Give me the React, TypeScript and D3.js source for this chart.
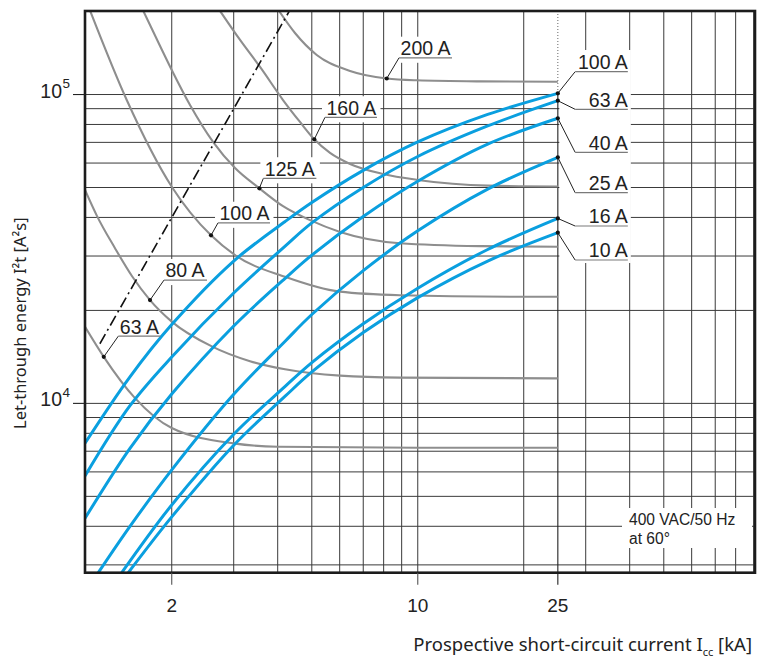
import React from "react";
import * as d3 from "d3";

// ---------------- data ----------------
const X_TICK_VALUES = [2, 10, 25];
const X_TICK_LABELS = ["2", "10", "25"];
const Y_TICK_VALUES = [10000, 100000];
const Y_TICK_BASE = "10";
const Y_TICK_EXPONENTS = ["4", "5"];
const X_GRID = [2, 3, 4, 5, 6, 7, 8, 9, 10, 20, 30, 40, 50, 60, 70, 80, 90];
const Y_GRID = [3000, 4000, 5000, 6000, 7000, 8000, 9000, 10000, 20000, 30000, 40000, 50000, 60000, 70000, 80000, 90000, 100000];
const X_DOMAIN = [1.134, 90.8];
const Y_DOMAIN = [2830, 186400];
const ICC_MAX = 25;

// MCB let-through energy curves: [Icc kA, I2t A2s]
const MCB_LABELS = ["100 A", "63 A", "40 A", "25 A", "16 A", "10 A"];
const MCB_100A = [[1.134, 7430], [1.52, 12170], [2, 18000], [3, 28900], [4.2, 38800], [5, 44700], [7, 56800], [10, 70200], [15.8, 86200], [25, 100900]];
const MCB_63A = [[1.134, 5820], [1.52, 9810], [2, 14130], [3, 22770], [4.2, 32300], [5, 38400], [7, 50000], [10, 63000], [15.8, 79100], [25, 95500]];
const MCB_40A = [[1.134, 4245], [1.52, 7140], [2, 10720], [3, 17800], [4.2, 25400], [5, 30200], [7, 40300], [10, 52400], [15.8, 69100], [25, 83800]];
const MCB_25A = [[1.237, 2830], [1.52, 3990], [2, 6090], [3, 10700], [4.2, 15900], [5, 19400], [7, 26900], [10, 36200], [15.8, 49400], [25, 62600]];
const MCB_16A = [[1.442, 2830], [2, 4690], [3, 7940], [4.2, 11350], [5, 13550], [7, 18100], [10, 23600], [15.8, 31500], [25, 39700]];
const MCB_10A = [[1.505, 2830], [2, 4290], [3, 7320], [4.2, 10550], [5, 12640], [7, 16950], [10, 22000], [15.8, 28900], [25, 35700]];
const MCB_SERIES = [MCB_100A, MCB_63A, MCB_40A, MCB_25A, MCB_16A, MCB_10A];

// Fuse curves (grey): [Icc kA, I2t A2s]
const FUSE_LABELS = ["63 A", "80 A", "100 A", "125 A", "160 A", "200 A"];
const FUSE_63A = [[1.134, 17700], [1.282, 14150], [1.573, 10400], [2, 8320], [3, 7420], [4, 7240], [10, 7185], [25, 7185]];
const FUSE_80A = [[1.134, 49100], [1.227, 40400], [1.38, 31800], [1.543, 25800], [1.735, 21600], [2, 18400], [2.598, 15300], [3.338, 13700], [4.197, 12900], [6.015, 12300], [8.9, 12120], [25, 12050]];
const FUSE_100A = [[1.172, 187000], [1.49, 96000], [2, 50300], [2.586, 35000], [3.026, 30200], [4.197, 25700], [6.015, 23000], [8.9, 22400], [18.3, 22150], [25, 22140]];
const FUSE_125A = [[1.661, 186400], [1.853, 143600], [2, 120100], [2.254, 92500], [2.62, 70300], [3.026, 57800], [3.548, 49700], [4.142, 43500], [4.942, 39200], [6.015, 35900], [8.9, 33000], [15, 32300], [25, 32150]];
const FUSE_160A = [[2.744, 186400], [3.127, 150200], [3.564, 122800], [4.142, 96000], [4.628, 81500], [5.082, 71600], [5.633, 64700], [6.422, 59600], [7.967, 55300], [10, 52900], [15.84, 50700], [25, 50400]];
const FUSE_200A = [[4.035, 186400], [4.479, 158200], [5.164, 134300], [6.422, 119200], [8.163, 112700], [9.93, 111200], [15, 110300], [25, 110000]];
const FUSE_SERIES = [FUSE_63A, FUSE_80A, FUSE_100A, FUSE_125A, FUSE_160A, FUSE_200A];
const FUSE_ANCHOR_ICC = [1.282, 1.735, 2.586, 3.548, 5.082, 8.163];

// 10 ms reference line (dash-dot)
const REF_LINE = [[1.25, 15600], [4.32, 186600]];

const X_TITLE = "Prospective short-circuit current I";
const X_TITLE_SUB = "cc";
const X_TITLE_UNIT = " [kA]";
const Y_TITLE = "Let-through energy I²t [A²s]";
const NOTE_LINES = ["400 VAC/50 Hz", "at 60°"];

// ---------------- component ----------------
export default function App() {
  const W = 757, H = 660;
  const L = 85, R = 755, T = 11, B = 572.7;
  const x = d3.scaleLog().domain(X_DOMAIN).range([L, R]);
  const y = d3.scaleLog().domain(Y_DOMAIN).range([B, T]);
  const fuseLine = d3
    .line<number[]>()
    .x((d) => x(d[0]))
    .y((d) => y(d[1]))
    .curve(d3.curveMonotoneX);
  const mcbLine = d3
    .line<number[]>()
    .x((d) => x(d[0]))
    .y((d) => y(d[1]))
    .curve(d3.curveCatmullRom.alpha(0.5));

  const valueAt = (s: number[][], v: number) => {
    for (let i = 0; i < s.length - 1; i++) {
      const [x0, y0] = s[i];
      const [x1, y1] = s[i + 1];
      if (v >= x0 && v <= x1) {
        const t = (Math.log(v) - Math.log(x0)) / (Math.log(x1) - Math.log(x0));
        return Math.exp(Math.log(y0) + t * (Math.log(y1) - Math.log(y0)));
      }
    }
    return s[s.length - 1][1];
  };

  const LABEL_FONT = "'Liberation Sans', Arial, Helvetica, sans-serif";
  const TITLE_FONT = "'Noto Sans', 'Open Sans', sans-serif";
  const GRID = "#3a3a3a";
  const FUSE_COL = "#8e8e8e";
  const BLUE = "#0a9fdf";
  const INK = "#222";

  const x25 = x(ICC_MAX);
  const y100End = y(MCB_100A[MCB_100A.length - 1][1]);

  // layout of annotation labels
  const FUSE_LEADER_DX = [14.6, 14, 7, 4, 10.7, 12.3];
  const FUSE_LEADER_DY = [-20.7, -20, -12.5, -10, -22, -20.7];
  const FUSE_UL_LEN = [42, 43, 52, 53, 52, 53];
  const MCB_UL_Y = [71.7, 109.3, 152.3, 192.7, 226, 260];
  const LABEL_SIZE = 19.5;

  const fuseLabels = FUSE_LABELS.map((lab, i) => {
    const cx = x(FUSE_ANCHOR_ICC[i]);
    const cy = y(valueAt(FUSE_SERIES[i], FUSE_ANCHOR_ICC[i]));
    const ex = cx + FUSE_LEADER_DX[i];
    const ey = cy + FUSE_LEADER_DY[i];
    return { lab, cx, cy, ex, ey, len: FUSE_UL_LEN[i] };
  });

  const mcbLabels = MCB_LABELS.map((lab, i) => {
    const s = MCB_SERIES[i];
    const cx = x(s[s.length - 1][0]);
    const cy = y(s[s.length - 1][1]);
    return { lab, cx, cy, ex: x25 + 17.3, ey: MCB_UL_Y[i], endX: x25 + 70 };
  });

  return (
    <svg
      width={W}
      height={H}
      viewBox={`0 0 ${W} ${H}`}
      style={{ position: "absolute", left: 0, top: 0, background: "#fff" }}
    >
      <defs>
        <clipPath id="plot">
          <rect x={L} y={T} width={R - L} height={B - T} />
        </clipPath>
      </defs>
      <rect x={0} y={0} width={W} height={H} fill="#fff" />

      {/* grid */}
      <g stroke={GRID} strokeWidth={1}>
        {X_GRID.map((v) => (
          <line key={"gx" + v} x1={x(v)} x2={x(v)} y1={T} y2={B} />
        ))}
        {Y_GRID.map((v) => (
          <line key={"gy" + v} x1={L} x2={R} y1={y(v)} y2={y(v)} />
        ))}
      </g>

      {/* white knock-out boxes behind labels */}
      <g fill="#fff">
        {fuseLabels.map((f, i) => (
          <rect key={"kb" + i} x={f.ex - 3} y={f.ey - 2.6 - 14 - 4.5} width={f.len + 6.5} height={14 + 4.5 + 2.6 + 5} />
        ))}
        <rect x={x25 + 1.5} y={50} width={71.5} height={213} />
        <rect x={622} y={508} width={130} height={40} />
      </g>

      {/* 25 kA line */}
      <line x1={x25} x2={x25} y1={T} y2={y100End} stroke="#555" strokeWidth={0.9} strokeDasharray="1,2" />
      <line x1={x25} x2={x25} y1={y100End} y2={B + 12} stroke={INK} strokeWidth={1.1} />

      {/* fuse curves */}
      <g clipPath="url(#plot)" fill="none" stroke={FUSE_COL} strokeWidth={2.1}>
        {FUSE_SERIES.map((s, i) => (
          <path key={"f" + i} d={fuseLine(s) || ""} />
        ))}
      </g>

      {/* 10 ms reference line */}
      <g clipPath="url(#plot)">
        <path d={fuseLine(REF_LINE) || ""} fill="none" stroke="#111" strokeWidth={1.6} strokeDasharray="11,4,2,4" />
      </g>

      {/* MCB curves */}
      <g clipPath="url(#plot)" fill="none" stroke={BLUE} strokeWidth={3} strokeLinejoin="round">
        {MCB_SERIES.map((s, i) => (
          <path key={"m" + i} d={mcbLine(s) || ""} />
        ))}
      </g>

      {/* fuse labels */}
      {fuseLabels.map((f, i) => (
        <g key={"fl" + i}>
          <line x1={f.cx} y1={f.cy} x2={f.ex} y2={f.ey} stroke={INK} strokeWidth={1} />
          <line x1={f.ex} y1={f.ey} x2={f.ex + f.len} y2={f.ey} stroke="#7a7a7a" strokeWidth={1.2} />
          <circle cx={f.cx} cy={f.cy} r={2.1} fill="#111" />
          <text x={f.ex + 1.5} y={f.ey - 2.6} fontFamily={LABEL_FONT} fontSize={LABEL_SIZE} fill={INK}>
            {f.lab}
          </text>
        </g>
      ))}

      {/* MCB labels */}
      {mcbLabels.map((m, i) => (
        <g key={"ml" + i}>
          <line x1={m.cx} y1={m.cy} x2={m.ex} y2={m.ey} stroke={INK} strokeWidth={1} />
          <line x1={m.ex} y1={m.ey} x2={m.endX} y2={m.ey} stroke="#7a7a7a" strokeWidth={1.2} />
          <circle cx={m.cx} cy={m.cy} r={2.1} fill="#111" />
          <text x={m.endX} y={m.ey - 2.6} textAnchor="end" fontFamily={LABEL_FONT} fontSize={LABEL_SIZE} fill={INK}>
            {m.lab}
          </text>
        </g>
      ))}

      {/* note */}
      <text fontFamily={LABEL_FONT} fontSize={15.6} fill={INK}>
        <tspan x={629} y={525}>{NOTE_LINES[0]}</tspan>
        <tspan x={629} y={543.5}>{NOTE_LINES[1]}</tspan>
      </text>

      {/* frame */}
      <rect x={L} y={T} width={R - L} height={B - T} fill="none" stroke="#1c1c1c" strokeWidth={2.6} />

      {/* ticks */}
      {Y_TICK_VALUES.map((v) => (
        <line key={"yt" + v} x1={L - 12} x2={L} y1={y(v)} y2={y(v)} stroke={INK} strokeWidth={1.1} />
      ))}
      {X_TICK_VALUES.filter((v) => v !== ICC_MAX).map((v) => (
        <line key={"xt" + v} x1={x(v)} x2={x(v)} y1={B} y2={B + 12} stroke="#555" strokeWidth={1.1} />
      ))}

      {/* tick labels */}
      {Y_TICK_VALUES.map((v, i) => (
        <text key={"yl" + v} fontFamily={LABEL_FONT} fill={INK}>
          <tspan x={L - 23} y={y(v) + 3} fontSize={19.5} textAnchor="end">
            {Y_TICK_BASE}
          </tspan>
          <tspan x={L - 22.5} y={y(v) - 6.5} fontSize={13.5}>
            {Y_TICK_EXPONENTS[i]}
          </tspan>
        </text>
      ))}
      {X_TICK_VALUES.map((v, i) => (
        <text key={"xl" + v} x={x(v)} y={611.7} textAnchor="middle" fontFamily={LABEL_FONT} fontSize={19} fill={INK}>
          {X_TICK_LABELS[i]}
        </text>
      ))}

      {/* axis titles */}
      <text x={752} y={651} textAnchor="end" fontFamily={TITLE_FONT} fontSize={18.5} fill={INK}>
        {X_TITLE}
        <tspan fontSize={11} dy={5}>
          {X_TITLE_SUB}
        </tspan>
        <tspan dy={-5}>{X_TITLE_UNIT}</tspan>
      </text>
      <text
        transform="translate(26,429) rotate(-90)"
        textAnchor="start"
        fontFamily={TITLE_FONT}
        fontSize={16.5}
        fill={INK}
      >
        {Y_TITLE}
      </text>
    </svg>
  );
}
